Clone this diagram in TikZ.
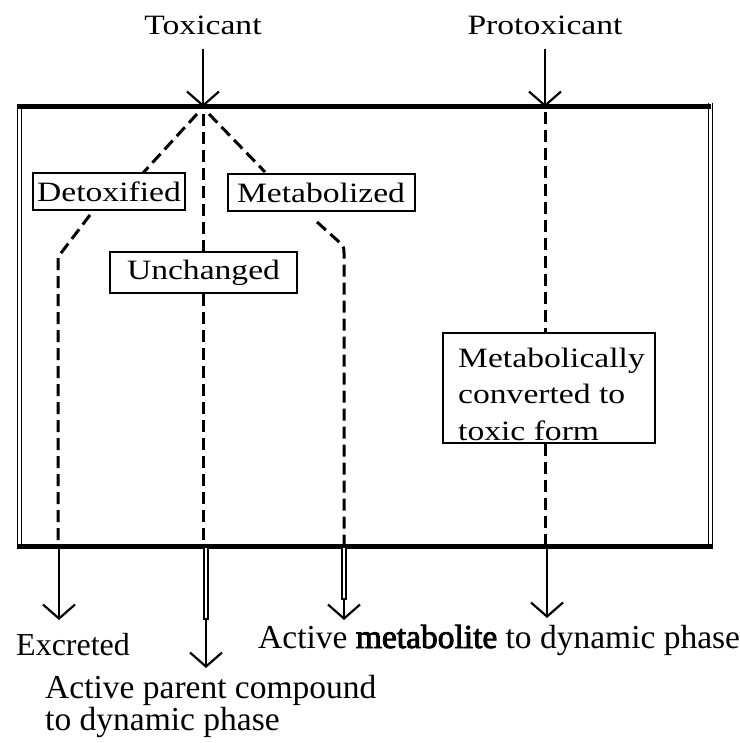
\documentclass[tikz,border=0pt]{standalone}
\usepackage{fontspec}
\setmainfont{Liberation Serif}
\newfontfamily\labelfont[FakeStretch=1.2]{Liberation Serif}
\newfontfamily\heavyfont[FakeBold=2.5]{Liberation Serif}
\usetikzlibrary{arrows.meta}
\begin{document}
\begin{tikzpicture}[x=1pt,y=-1pt,
  tag/.style={font=\labelfont\fontsize{28}{36.5}\selectfont, inner sep=0pt},
  outcome/.style={font=\fontsize{32}{32}\selectfont, inner sep=0pt},
  bigoutcome/.style={font=\fontsize{33.5}{33.5}\selectfont, inner sep=0pt},
  stagebox/.style={draw, line width=2pt, fill=white, inner sep=0pt,
    font=\labelfont\fontsize{28}{34}\selectfont},
  pathway/.style={line width=3pt, dash pattern=on 12pt off 6pt},
  flow/.style={line width=2.2pt, -{Straight Barb[length=14pt,width=32pt,line width=2.2pt]}},
  twinflow/.style={line width=1.6pt, double, double distance=2.2pt},
  wall/.style={line width=5pt},
  side/.style={line width=1.4pt, double, double distance=3pt}]
\useasboundingbox (0,0) rectangle (739,743);

% incoming agents
\node[tag, anchor=base] (tox) at (203,35) {Toxicant};
\node[tag, anchor=base] (protox) at (545,35) {Protoxicant};

% organism compartment
\coordinate (tl) at (17,107);
\coordinate (tr) at (711,107);
\coordinate (bl) at (17,546);
\coordinate (br) at (713,546);
\draw[side] (19.5,107) -- (19.5,548);
\draw[side] (710.5,103) -- (710.5,548);
\draw[wall] (tl) -- (tr);
\draw[wall] (bl) -- (br);

% entry points on the upper wall
\coordinate (jt) at (203,107);
\coordinate (jp) at (545,107);
\draw[flow] (203,49) -- (jt);
\draw[flow] (545,49) -- (jp);

% fate boxes
\node[stagebox, minimum width=152pt, minimum height=37pt] (det) at (109,191.5) {Detoxified};
\node[stagebox, minimum width=187pt, minimum height=37pt] (metz) at (321,193) {Metabolized};
\node[stagebox, minimum width=212pt, minimum height=110pt] (conv) at (549,388) {};
\node[tag, anchor=base west, align=left] (convtxt) at (458,440)
  {Metabolically\\converted to\\toxic form};

% dashed pathways inside the compartment
\coordinate (dl) at (58,257);
\coordinate (dr) at (344,253);
\coordinate (uc) at (203,546);
\draw[pathway] (203,114) -- (uc);
\node[stagebox, minimum width=187pt, minimum height=41pt] (unch) at (203.5,272.5) {Unchanged};
\draw[pathway] (197,114) -- (143,173);
\draw[pathway] (209,114) -- (265,172);
\draw[pathway] (90,215) -- (dl) -- (58,546);
\draw[pathway] (317,222) -- (337,240) .. controls (344,247) .. (dr) -- (344,546);
\draw[pathway] (545,112) -- (conv.north -| 545,0);
\draw[pathway] (conv.south -| 545,0) -- (545,546);

% exits through the lower wall
\coordinate (e1) at (59,620);
\coordinate (e2) at (206,668);
\coordinate (e3) at (344,620);
\coordinate (e4) at (547,618);
\draw[flow] (59,548) -- (e1);
\draw[twinflow] (206,548) -- (206,620);
\draw[flow] (206,618) -- (e2);
\draw[twinflow] (344,548) -- (344,600);
\draw[flow] (344,598) -- (e3);
\draw[flow] (547,548) -- (e4);

% outcomes
\node[outcome, anchor=base west] (excr) at (16,655) {Excreted};
\node[bigoutcome, anchor=base west] (actmet) at (258,648)
  {Active {\heavyfont metabolite} to dynamic phase};
\node[bigoutcome, anchor=base west] (actpar) at (45,698) {Active parent compound};
\node[bigoutcome, anchor=base west] (actpar2) at (45,730) {to dynamic phase};
\end{tikzpicture}
\end{document}
